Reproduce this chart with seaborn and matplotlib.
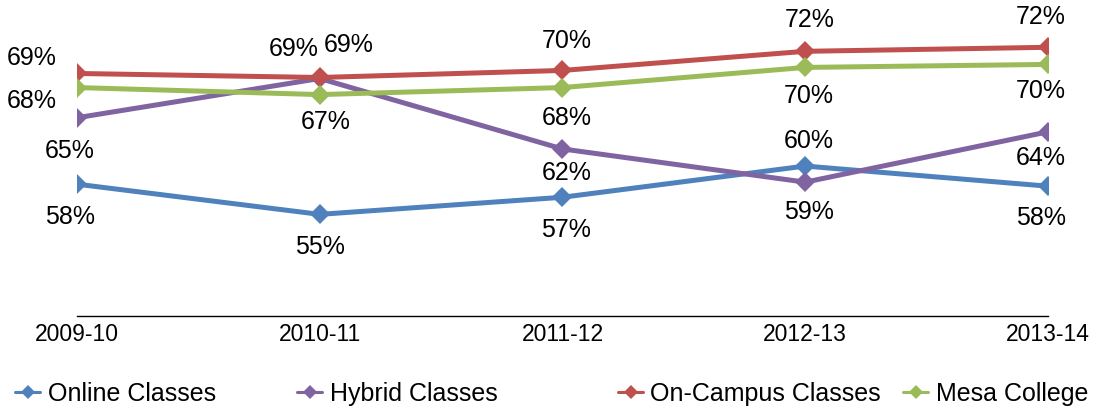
import pandas as pd
import seaborn as sns
import matplotlib.pyplot as plt
from matplotlib.lines import Line2D

years = ['2009-10', '2010-11', '2011-12', '2012-13', '2013-14']
online = [58.4, 55.4, 57.1, 60.2, 58.2]
hybrid = [65.0, 68.9, 61.9, 58.6, 63.6]
campus = [69.4, 69.0, 69.7, 71.6, 72.0]
mesa = [68.0, 67.3, 68.0, 70.0, 70.3]
names = ['Online Classes', 'Hybrid Classes', 'On-Campus Classes', 'Mesa College']
colors = ['#4F81BD', '#8064A2', '#C0504D', '#9BBB59']

sns.set_style('white')
plt.rcParams['font.family'] = ['Liberation Sans', 'DejaVu Sans']
plt.rcParams['text.color'] = 'black'
plt.rcParams['xtick.color'] = 'black'

rows = []
for name, vals in zip(names, [online, hybrid, campus, mesa]):
    for y, v in zip(years, vals):
        rows.append({'year': y, 'value': v, 'series': name})
df = pd.DataFrame(rows)

fig = plt.figure(figsize=(11.14, 4.11), dpi=100)
ax = fig.add_axes([0.0691, 0.2311, 0.8716, 0.7273])

sns.lineplot(data=df, x='year', y='value', hue='series', hue_order=names,
             palette=colors, marker='D', markersize=10, markeredgewidth=0,
             linewidth=3.6, sort=False, legend=False, ax=ax)

# label offsets in pixels (dx, dy) per series / point
offsets = {
    'Online Classes': [(-7, -33), (0, -33), (4, -33), (4, 25), (-7, -32)],
    'Hybrid Classes': [(-7, -33), (29, 33), (4, -24), (4, -30), (-7, -26)],
    'On-Campus Classes': [(-45, 15), (-26, 28), (4, 29), (4, 31), (-7, 30)],
    'Mesa College': [(-45, -13), (6, -27), (4, -30), (4, -29), (-7, -27)],
}
for name, vals in zip(names, [online, hybrid, campus, mesa]):
    for i, v in enumerate(vals):
        dx, dy = offsets[name][i]
        ax.annotate(f'{v:.0f}%', (i, v), xytext=(dx, dy),
                    textcoords='offset pixels', ha='center', va='center',
                    fontsize=18, color='black')

ax.set_xlim(0, 4)
ax.set_ylim(45.3, 75)
ax.set_xlabel('')
ax.set_ylabel('')
ax.set_yticks([])
for s in ['top', 'right', 'left']:
    ax.spines[s].set_visible(False)
ax.spines['bottom'].set_color('black')
ax.spines['bottom'].set_linewidth(1)
ax.tick_params(axis='x', length=3, width=1, color='black', labelcolor='black',
               labelsize=16.5, pad=2, direction='out')

legend_x = [15, 297, 618, 903]
for name, c, lx in zip(names, colors, legend_x):
    h = Line2D([], [], color=c, marker='D', markersize=7, linewidth=2.2,
               markeredgewidth=0)
    fig.legend(handles=[h], labels=[name], loc='center left',
               bbox_to_anchor=(lx / 1114, 1 - 394 / 411), frameon=False,
               borderpad=0, borderaxespad=0, handlelength=1.0,
               handletextpad=0.3, fontsize=18, labelcolor='black')

fig.savefig('out.png', dpi=100)
